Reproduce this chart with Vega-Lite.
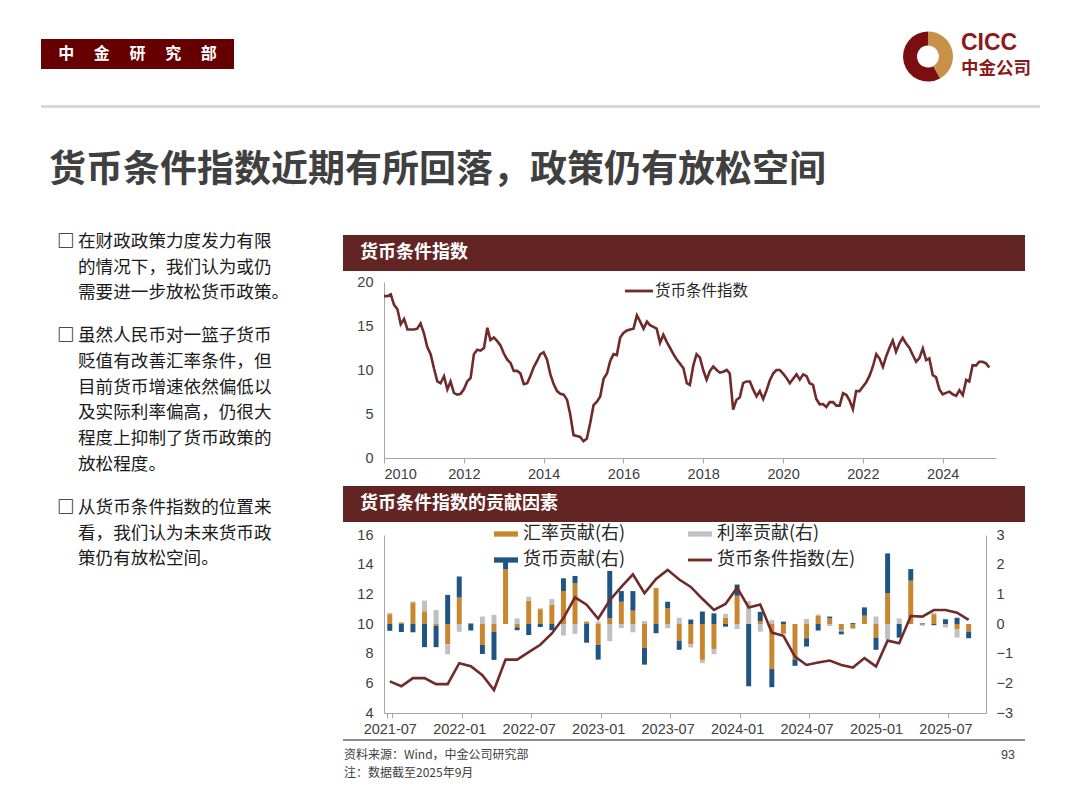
{
  "$schema": "https://vega.github.io/schema/vega-lite/v6.json",
  "background": "#ffffff",
  "padding": {"left": 41, "top": 30, "right": 0, "bottom": 0},
  "config": {
    "font": "Noto Sans CJK SC",
    "view": {"stroke": null},
    "axis": {"labelFont": "Liberation Sans", "labelFontSize": 14.5, "labelColor": "#404040", "domainColor": "#a6a6a6", "tickColor": "#a6a6a6", "grid": false, "title": null}
  },
  "datasets": {
    "seriesRank": [
      {"series": "汇率贡献(右)", "rank": 1},
      {"series": "利率贡献(右)", "rank": 2},
      {"series": "货币贡献(右)", "rank": 3}
    ]
  },
  "resolve": {"scale": {"color": "independent"}},
  "spacing": 0,
  "vconcat": [
    {
      "spacing": 669,
      "hconcat": [
        {
          "spacing": 0,
          "vconcat": [
            {"width": 193, "height": 9, "data": {"values": [{}]}, "mark": {"type": "text", "text": "", "fontSize": 0}},
            {
              "width": 193, "height": 30,
              "view": {"fill": "#660000"},
              "data": {"values": [{"label": "中　 金　 研　 究　 部"}]},
              "mark": {"type": "text", "color": "#ffffff", "fontSize": 16, "fontWeight": "bold", "baseline": "middle", "align": "center"},
              "encoding": {"text": {"field": "label"}}
            }
          ]
        },
        {
          "spacing": 8,
          "hconcat": [
            {
              "width": 50, "height": 53,
              "data": {"values": [{"part": "金", "share": 42}, {"part": "红", "share": 58}]},
              "mark": {"type": "arc", "outerRadius": 25, "innerRadius": 11},
              "encoding": {
                "theta": {"field": "share", "type": "quantitative"},
                "color": {"field": "part", "type": "nominal", "scale": {"domain": ["金", "红"], "range": ["#c8914a", "#7b0f10"]}, "legend": null},
                "order": {"field": "share", "type": "quantitative"}
              }
            },
            {
              "width": 80, "height": 52,
              "layer": [
                {
                  "data": {"values": [{"t": "CICC"}]},
                  "mark": {"type": "text", "align": "left", "baseline": "middle", "font": "Liberation Sans", "fontSize": 23, "fontWeight": "bold", "color": "#8b1a1a"},
                  "encoding": {
                    "text": {"field": "t"},
                    "x": {"datum": 0, "type": "quantitative", "scale": {"domain": [0, 1]}, "axis": null},
                    "y": {"field": "t", "type": "ordinal", "scale": {"domain": ["CICC", "中金公司"], "padding": 0.5}, "axis": null}
                  }
                },
                {
                  "data": {"values": [{"t": "中金公司"}]},
                  "mark": {"type": "text", "align": "left", "baseline": "middle", "fontSize": 17.5, "fontWeight": "bold", "color": "#8b1a1a"},
                  "encoding": {
                    "text": {"field": "t"},
                    "x": {"datum": 0, "type": "quantitative", "scale": {"domain": [0, 1]}, "axis": null},
                    "y": {"field": "t", "type": "ordinal", "scale": {"domain": ["CICC", "中金公司"], "padding": 0.5}, "axis": null}
                  }
                }
              ]
            }
          ]
        }
      ]
    },
    {"width": 999, "height": 22, "data": {"values": [{}]}, "mark": {"type": "text", "text": "", "fontSize": 0}},
    {"width": 999, "height": 3, "view": {"fill": "#d9d9d9"}, "data": {"values": [{}]}, "mark": {"type": "text", "text": "", "fontSize": 0}},
    {"width": 999, "height": 44, "data": {"values": [{}]}, "mark": {"type": "text", "text": "", "fontSize": 0}},
    {
      "title": {"text": "货币条件指数近期有所回落，政策仍有放松空间", "anchor": "start", "fontSize": 37, "fontWeight": "bold", "color": "#404040", "offset": 39, "dx": 8},
      "spacing": 12,
      "hconcat": [
        {
          "spacing": 17.5,
          "vconcat": [
            {
              "width": 290, "height": 77,
              "layer": [
                {
                  "data": {"values": [{"line": 1, "text": "□"}]},
                  "mark": {"type": "text", "align": "left", "baseline": "middle", "fontSize": 17.6, "fontWeight": "bold", "color": "#1a1a1a", "dx": 16},
                  "encoding": {
                    "text": {"field": "text"},
                    "x": {"datum": 0, "type": "quantitative", "scale": {"domain": [0, 1]}, "axis": null},
                    "y": {"field": "line", "type": "ordinal", "scale": {"domain": [1, 2, 3], "padding": 0.5}, "axis": null}
                  }
                },
                {
                  "data": {"values": [
                    {"line": 1, "text": "在财政政策力度发力有限"},
                    {"line": 2, "text": "的情况下，我们认为或仍"},
                    {"line": 3, "text": "需要进一步放松货币政策。"}
                  ]},
                  "mark": {"type": "text", "align": "left", "baseline": "middle", "fontSize": 17.6, "color": "#1a1a1a", "dx": 37},
                  "encoding": {
                    "text": {"field": "text"},
                    "x": {"datum": 0, "type": "quantitative", "scale": {"domain": [0, 1]}, "axis": null},
                    "y": {"field": "line", "type": "ordinal", "scale": {"domain": [1, 2, 3], "padding": 0.5}, "axis": null}
                  }
                }
              ]
            },
            {
              "width": 290, "height": 154,
              "layer": [
                {
                  "data": {"values": [{"line": 1, "text": "□"}]},
                  "mark": {"type": "text", "align": "left", "baseline": "middle", "fontSize": 17.6, "fontWeight": "bold", "color": "#1a1a1a", "dx": 16},
                  "encoding": {
                    "text": {"field": "text"},
                    "x": {"datum": 0, "type": "quantitative", "scale": {"domain": [0, 1]}, "axis": null},
                    "y": {"field": "line", "type": "ordinal", "scale": {"domain": [1, 2, 3, 4, 5, 6], "padding": 0.5}, "axis": null}
                  }
                },
                {
                  "data": {"values": [
                    {"line": 1, "text": "虽然人民币对一篮子货币"},
                    {"line": 2, "text": "贬值有改善汇率条件，但"},
                    {"line": 3, "text": "目前货币增速依然偏低以"},
                    {"line": 4, "text": "及实际利率偏高，仍很大"},
                    {"line": 5, "text": "程度上抑制了货币政策的"},
                    {"line": 6, "text": "放松程度。"}
                  ]},
                  "mark": {"type": "text", "align": "left", "baseline": "middle", "fontSize": 17.6, "color": "#1a1a1a", "dx": 37},
                  "encoding": {
                    "text": {"field": "text"},
                    "x": {"datum": 0, "type": "quantitative", "scale": {"domain": [0, 1]}, "axis": null},
                    "y": {"field": "line", "type": "ordinal", "scale": {"domain": [1, 2, 3, 4, 5, 6], "padding": 0.5}, "axis": null}
                  }
                }
              ]
            },
            {
              "width": 290, "height": 77,
              "layer": [
                {
                  "data": {"values": [{"line": 1, "text": "□"}]},
                  "mark": {"type": "text", "align": "left", "baseline": "middle", "fontSize": 17.6, "fontWeight": "bold", "color": "#1a1a1a", "dx": 16},
                  "encoding": {
                    "text": {"field": "text"},
                    "x": {"datum": 0, "type": "quantitative", "scale": {"domain": [0, 1]}, "axis": null},
                    "y": {"field": "line", "type": "ordinal", "scale": {"domain": [1, 2, 3], "padding": 0.5}, "axis": null}
                  }
                },
                {
                  "data": {"values": [
                    {"line": 1, "text": "从货币条件指数的位置来"},
                    {"line": 2, "text": "看，我们认为未来货币政"},
                    {"line": 3, "text": "策仍有放松空间。"}
                  ]},
                  "mark": {"type": "text", "align": "left", "baseline": "middle", "fontSize": 17.6, "color": "#1a1a1a", "dx": 37},
                  "encoding": {
                    "text": {"field": "text"},
                    "x": {"datum": 0, "type": "quantitative", "scale": {"domain": [0, 1]}, "axis": null},
                    "y": {"field": "line", "type": "ordinal", "scale": {"domain": [1, 2, 3], "padding": 0.5}, "axis": null}
                  }
                }
              ]
            }
          ]
        },
        {
          "spacing": 0,
          "resolve": {"scale": {"color": "independent"}},
          "vconcat": [
            {"width": 1, "height": 6, "data": {"values": [{}]}, "mark": {"type": "text", "text": "", "fontSize": 0}},
            {
              "width": 682, "height": 36,
              "view": {"fill": "#632523"},
              "data": {"values": [{"t": "货币条件指数"}]},
              "mark": {"type": "text", "align": "left", "baseline": "middle", "dx": 17, "fontSize": 18, "fontWeight": "bold", "color": "#ffffff"},
              "encoding": {
                "text": {"field": "t"},
                "x": {"datum": 0, "type": "quantitative", "scale": {"domain": [0, 1]}, "axis": null}
              }
            },
            {"width": 1, "height": 3, "data": {"values": [{}]}, "mark": {"type": "text", "text": "", "fontSize": 0}},
            {
              "spacing": 0,
              "resolve": {"scale": {"color": "independent"}},
              "hconcat": [
                {"width": 1, "height": 1, "data": {"values": [{}]}, "mark": {"type": "text", "text": "", "fontSize": 0}},
                {
                  "width": 612, "height": 176,
                  "data": {"values": [
                    {"date":"2010/07/01","mci":18.4},{"date":"2010/08/01","mci":18.4},{"date":"2010/09/01","mci":18.6},{"date":"2010/10/01","mci":17.4},{"date":"2010/11/01","mci":16.9},{"date":"2010/12/01","mci":15.2},
                    {"date":"2011/01/01","mci":15.8},{"date":"2011/02/01","mci":14.6},{"date":"2011/03/01","mci":14.6},{"date":"2011/04/01","mci":14.6},{"date":"2011/05/01","mci":14.7},{"date":"2011/06/01","mci":15.3},{"date":"2011/07/01","mci":14.2},{"date":"2011/08/01","mci":12.6},{"date":"2011/09/01","mci":11.8},{"date":"2011/10/01","mci":10.2},{"date":"2011/11/01","mci":8.7},{"date":"2011/12/01","mci":8.5},
                    {"date":"2012/01/01","mci":9.3},{"date":"2012/02/01","mci":7.8},{"date":"2012/03/01","mci":8.7},{"date":"2012/04/01","mci":7.4},{"date":"2012/05/01","mci":7.2},{"date":"2012/06/01","mci":7.3},{"date":"2012/07/01","mci":7.8},{"date":"2012/08/01","mci":8.7},{"date":"2012/09/01","mci":9.1},{"date":"2012/10/01","mci":11.8},{"date":"2012/11/01","mci":12.3},{"date":"2012/12/01","mci":12.2},
                    {"date":"2013/01/01","mci":12.5},{"date":"2013/02/01","mci":14.8},{"date":"2013/03/01","mci":13.4},{"date":"2013/04/01","mci":13.7},{"date":"2013/05/01","mci":13.3},{"date":"2013/06/01","mci":12.8},{"date":"2013/07/01","mci":11.9},{"date":"2013/08/01","mci":11.2},{"date":"2013/09/01","mci":10.8},{"date":"2013/10/01","mci":9.9},{"date":"2013/11/01","mci":9.9},{"date":"2013/12/01","mci":9.6},
                    {"date":"2014/01/01","mci":8.4},{"date":"2014/02/01","mci":8.5},{"date":"2014/03/01","mci":9.3},{"date":"2014/04/01","mci":10.3},{"date":"2014/05/01","mci":11.0},{"date":"2014/06/01","mci":11.8},{"date":"2014/07/01","mci":12.0},{"date":"2014/08/01","mci":11.2},{"date":"2014/09/01","mci":9.5},{"date":"2014/10/01","mci":8.4},{"date":"2014/11/01","mci":7.6},{"date":"2014/12/01","mci":7.3},
                    {"date":"2015/01/01","mci":7.2},{"date":"2015/02/01","mci":6.6},{"date":"2015/03/01","mci":5.0},{"date":"2015/04/01","mci":2.6},{"date":"2015/05/01","mci":2.5},{"date":"2015/06/01","mci":2.4},{"date":"2015/07/01","mci":1.9},{"date":"2015/08/01","mci":2.2},{"date":"2015/09/01","mci":4.0},{"date":"2015/10/01","mci":6.0},{"date":"2015/11/01","mci":6.4},{"date":"2015/12/01","mci":7.0},
                    {"date":"2016/01/01","mci":9.0},{"date":"2016/02/01","mci":9.6},{"date":"2016/03/01","mci":11.0},{"date":"2016/04/01","mci":11.8},{"date":"2016/05/01","mci":11.7},{"date":"2016/06/01","mci":13.7},{"date":"2016/07/01","mci":14.2},{"date":"2016/08/01","mci":14.5},{"date":"2016/09/01","mci":14.6},{"date":"2016/10/01","mci":14.7},{"date":"2016/11/01","mci":16.2},{"date":"2016/12/01","mci":15.5},
                    {"date":"2017/01/01","mci":14.7},{"date":"2017/02/01","mci":15.5},{"date":"2017/03/01","mci":15.1},{"date":"2017/04/01","mci":14.9},{"date":"2017/05/01","mci":14.7},{"date":"2017/06/01","mci":13.1},{"date":"2017/07/01","mci":14.0},{"date":"2017/08/01","mci":13.2},{"date":"2017/09/01","mci":12.5},{"date":"2017/10/01","mci":11.8},{"date":"2017/11/01","mci":11.2},{"date":"2017/12/01","mci":10.7},
                    {"date":"2018/01/01","mci":10.2},{"date":"2018/02/01","mci":8.5},{"date":"2018/03/01","mci":8.3},{"date":"2018/04/01","mci":10.5},{"date":"2018/05/01","mci":11.8},{"date":"2018/06/01","mci":11.4},{"date":"2018/07/01","mci":10.0},{"date":"2018/08/01","mci":8.9},{"date":"2018/09/01","mci":9.9},{"date":"2018/10/01","mci":10.4},{"date":"2018/11/01","mci":10.0},{"date":"2018/12/01","mci":9.7},
                    {"date":"2019/01/01","mci":9.8},{"date":"2019/02/01","mci":10.0},{"date":"2019/03/01","mci":9.6},{"date":"2019/04/01","mci":5.5},{"date":"2019/05/01","mci":6.6},{"date":"2019/06/01","mci":6.9},{"date":"2019/07/01","mci":8.5},{"date":"2019/08/01","mci":8.7},{"date":"2019/09/01","mci":8.7},{"date":"2019/10/01","mci":7.8},{"date":"2019/11/01","mci":7.0},{"date":"2019/12/01","mci":7.6},
                    {"date":"2020/01/01","mci":6.7},{"date":"2020/02/01","mci":7.7},{"date":"2020/03/01","mci":8.8},{"date":"2020/04/01","mci":9.6},{"date":"2020/05/01","mci":10.0},{"date":"2020/06/01","mci":10.0},{"date":"2020/07/01","mci":9.6},{"date":"2020/08/01","mci":9.1},{"date":"2020/09/01","mci":8.5},{"date":"2020/10/01","mci":9.0},{"date":"2020/11/01","mci":9.5},{"date":"2020/12/01","mci":8.9},
                    {"date":"2021/01/01","mci":9.5},{"date":"2021/02/01","mci":9.3},{"date":"2021/03/01","mci":8.5},{"date":"2021/04/01","mci":8.3},{"date":"2021/05/01","mci":6.7},{"date":"2021/06/01","mci":6.1},{"date":"2021/07/01","mci":6.13},{"date":"2021/08/01","mci":5.8},{"date":"2021/09/01","mci":6.35},{"date":"2021/10/01","mci":6.35},{"date":"2021/11/01","mci":5.95},{"date":"2021/12/01","mci":5.95},
                    {"date":"2022/01/01","mci":7.36},{"date":"2022/02/01","mci":7.15},{"date":"2022/03/01","mci":6.55},{"date":"2022/04/01","mci":5.55},{"date":"2022/05/01","mci":7.6},{"date":"2022/06/01","mci":7.6},{"date":"2022/07/01","mci":8.1},{"date":"2022/08/01","mci":8.6},{"date":"2022/09/01","mci":9.36},{"date":"2022/10/01","mci":10.4},{"date":"2022/11/01","mci":11.8},{"date":"2022/12/01","mci":11.3},
                    {"date":"2023/01/01","mci":10.35},{"date":"2023/02/01","mci":11.6},{"date":"2023/03/01","mci":12.5},{"date":"2023/04/01","mci":13.35},{"date":"2023/05/01","mci":12.07},{"date":"2023/06/01","mci":13.04},{"date":"2023/07/01","mci":13.65},{"date":"2023/08/01","mci":13.0},{"date":"2023/09/01","mci":12.5},{"date":"2023/10/01","mci":11.7},{"date":"2023/11/01","mci":10.95},{"date":"2023/12/01","mci":11.35},
                    {"date":"2024/01/01","mci":12.45},{"date":"2024/02/01","mci":11.12},{"date":"2024/03/01","mci":11.32},{"date":"2024/04/01","mci":9.42},{"date":"2024/05/01","mci":9.2},{"date":"2024/06/01","mci":7.8},{"date":"2024/07/01","mci":7.24},{"date":"2024/08/01","mci":7.4},{"date":"2024/09/01","mci":7.54},{"date":"2024/10/01","mci":7.24},{"date":"2024/11/01","mci":7.06},{"date":"2024/12/01","mci":7.7},
                    {"date":"2025/01/01","mci":7.14},{"date":"2025/02/01","mci":8.88},{"date":"2025/03/01","mci":8.7},{"date":"2025/04/01","mci":10.54},{"date":"2025/05/01","mci":10.5},{"date":"2025/06/01","mci":10.94},{"date":"2025/07/01","mci":10.94},{"date":"2025/08/01","mci":10.76},{"date":"2025/09/01","mci":10.28}
                  ]},
                  "mark": {"type": "line", "strokeWidth": 2.6},
                  "encoding": {
                    "x": {
                      "field": "date", "type": "temporal",
                      "scale": {"domain": [{"year": 2010, "month": 7, "date": 1}, {"year": 2025, "month": 11, "date": 1}], "nice": false},
                      "axis": {
                        "values": [
                          {"year": 2010, "month": 7, "date": 1}, {"year": 2012, "month": 7, "date": 1}, {"year": 2014, "month": 7, "date": 1}, {"year": 2016, "month": 7, "date": 1},
                          {"year": 2018, "month": 7, "date": 1}, {"year": 2020, "month": 7, "date": 1}, {"year": 2022, "month": 7, "date": 1}, {"year": 2024, "month": 7, "date": 1}
                        ],
                        "format": "%Y", "tickSize": 5, "labelPadding": 4
                      }
                    },
                    "y": {
                      "field": "mci", "type": "quantitative",
                      "scale": {"domain": [0, 20]},
                      "axis": {"values": [0, 5, 10, 15, 20], "ticks": false, "labelPadding": 11, "minExtent": 40, "maxExtent": 40}
                    },
                    "color": {
                      "datum": "货币条件指数",
                      "scale": {"range": ["#712a2a"]},
                      "legend": {
                        "orient": "none", "legendX": 241, "legendY": -5, "title": null,
                        "symbolType": "M-1,-0.1H1V0.1H-1Z", "symbolSize": 784,
                        "labelFontSize": 15.5, "labelColor": "#262626", "labelOffset": 2,
                        "encode": {"symbols": {"update": {"fill": {"value": "#712a2a"}, "stroke": {"value": "transparent"}, "strokeWidth": {"value": 0}, "opacity": {"value": 1}}}}
                      }
                    }
                  }
                }
              ]
            },
            {"width": 1, "height": 5, "data": {"values": [{}]}, "mark": {"type": "text", "text": "", "fontSize": 0}},
            {
              "width": 682, "height": 36,
              "view": {"fill": "#632523"},
              "data": {"values": [{"t": "货币条件指数的贡献因素"}]},
              "mark": {"type": "text", "align": "left", "baseline": "middle", "dx": 17, "fontSize": 18, "fontWeight": "bold", "color": "#ffffff"},
              "encoding": {
                "text": {"field": "t"},
                "x": {"datum": 0, "type": "quantitative", "scale": {"domain": [0, 1]}, "axis": null}
              }
            },
            {
              "spacing": 0,
              "resolve": {"scale": {"color": "independent"}},
              "hconcat": [
                {"width": 1, "height": 1, "data": {"values": [{}]}, "mark": {"type": "text", "text": "", "fontSize": 0}},
                {
                  "width": 602, "height": 178,
                  "data": {"values": [
                    {"month":"2021-07","汇率贡献(右)":0.33,"利率贡献(右)":0.04,"货币贡献(右)":-0.23,"mci":6.13},
                    {"month":"2021-08","汇率贡献(右)":0.05,"利率贡献(右)":0.0,"货币贡献(右)":-0.27,"mci":5.8},
                    {"month":"2021-09","汇率贡献(右)":0.73,"利率贡献(右)":0.03,"货币贡献(右)":-0.28,"mci":6.35},
                    {"month":"2021-10","汇率贡献(右)":0.43,"利率贡献(右)":0.36,"货币贡献(右)":-0.78,"mci":6.35},
                    {"month":"2021-11","汇率贡献(右)":-0.06,"利率贡献(右)":0.47,"货币贡献(右)":-0.72,"mci":5.95},
                    {"month":"2021-12","汇率贡献(右)":-0.68,"利率贡献(右)":-0.34,"货币贡献(右)":0.98,"mci":5.95},
                    {"month":"2022-01","汇率贡献(右)":0.89,"利率贡献(右)":-0.26,"货币贡献(右)":0.71,"mci":7.36},
                    {"month":"2022-02","汇率贡献(右)":0.03,"利率贡献(右)":0.0,"货币贡献(右)":-0.22,"mci":7.15},
                    {"month":"2022-03","汇率贡献(右)":-0.7,"利率贡献(右)":0.25,"货币贡献(右)":-0.31,"mci":6.55},
                    {"month":"2022-04","汇率贡献(右)":-0.26,"利率贡献(右)":0.31,"货币贡献(右)":-0.95,"mci":5.55},
                    {"month":"2022-05","汇率贡献(右)":1.85,"利率贡献(右)":0.0,"货币贡献(右)":0.3,"mci":7.6},
                    {"month":"2022-06","汇率贡献(右)":-0.11,"利率贡献(右)":0.19,"货币贡献(右)":-0.1,"mci":7.6},
                    {"month":"2022-07","汇率贡献(右)":0.79,"利率贡献(右)":0.13,"货币贡献(右)":-0.37,"mci":8.1},
                    {"month":"2022-08","汇率贡献(右)":0.5,"利率贡献(右)":0.03,"货币贡献(右)":-0.1,"mci":8.6},
                    {"month":"2022-09","汇率贡献(右)":0.66,"利率贡献(右)":0.18,"货币贡献(右)":-0.21,"mci":9.36},
                    {"month":"2022-10","汇率贡献(右)":1.11,"利率贡献(右)":-0.39,"货币贡献(右)":0.43,"mci":10.4},
                    {"month":"2022-11","汇率贡献(右)":1.37,"利率贡献(右)":-0.33,"货币贡献(右)":0.25,"mci":11.8},
                    {"month":"2022-12","汇率贡献(右)":0.08,"利率贡献(右)":0.0,"货币贡献(右)":-0.63,"mci":11.3},
                    {"month":"2023-01","汇率贡献(右)":-0.7,"利率贡献(右)":0.08,"货币贡献(右)":-0.5,"mci":10.35},
                    {"month":"2023-02","汇率贡献(右)":0.19,"利率贡献(右)":-0.58,"货币贡献(右)":1.6,"mci":11.6},
                    {"month":"2023-03","汇率贡献(右)":0.75,"利率贡献(右)":-0.14,"货币贡献(右)":0.36,"mci":12.5},
                    {"month":"2023-04","汇率贡献(右)":0.45,"利率贡献(右)":-0.28,"货币贡献(右)":0.66,"mci":13.35},
                    {"month":"2023-05","汇率贡献(右)":-0.81,"利率贡献(右)":0.1,"货币贡献(右)":-0.56,"mci":12.07},
                    {"month":"2023-06","汇率贡献(右)":1.21,"利率贡献(右)":0.0,"货币贡献(右)":-0.31,"mci":13.04},
                    {"month":"2023-07","汇率贡献(右)":0.53,"利率贡献(右)":-0.14,"货币贡献(右)":0.22,"mci":13.65},
                    {"month":"2023-08","汇率贡献(右)":-0.57,"利率贡献(右)":0.21,"货币贡献(右)":-0.3,"mci":13.0},
                    {"month":"2023-09","汇率贡献(右)":-0.68,"利率贡献(右)":-0.11,"货币贡献(右)":0.15,"mci":12.5},
                    {"month":"2023-10","汇率贡献(右)":-1.21,"利率贡献(右)":-0.11,"货币贡献(右)":0.42,"mci":11.7},
                    {"month":"2023-11","汇率贡献(右)":-0.84,"利率贡献(右)":-0.18,"货币贡献(右)":0.36,"mci":10.95},
                    {"month":"2023-12","汇率贡献(右)":0.21,"利率贡献(右)":0.13,"货币贡献(右)":-0.09,"mci":11.35},
                    {"month":"2024-01","汇率贡献(右)":0.95,"利率贡献(右)":-0.17,"货币贡献(右)":0.38,"mci":12.45},
                    {"month":"2024-02","汇率贡献(右)":0.0,"利率贡献(右)":0.77,"货币贡献(右)":-2.1,"mci":11.12},
                    {"month":"2024-03","汇率贡献(右)":0.1,"利率贡献(右)":-0.26,"货币贡献(右)":0.31,"mci":11.32},
                    {"month":"2024-04","汇率贡献(右)":-1.52,"利率贡献(右)":0.13,"货币贡献(右)":-0.61,"mci":9.42},
                    {"month":"2024-05","汇率贡献(右)":-0.33,"利率贡献(右)":0.0,"货币贡献(右)":0.08,"mci":9.2},
                    {"month":"2024-06","汇率贡献(右)":-1.19,"利率贡献(右)":0.0,"货币贡献(右)":-0.22,"mci":7.8},
                    {"month":"2024-07","汇率贡献(右)":-0.48,"利率贡献(右)":0.17,"货币贡献(右)":-0.28,"mci":7.24},
                    {"month":"2024-08","汇率贡献(右)":0.27,"利率贡献(右)":0.05,"货币贡献(右)":-0.22,"mci":7.4},
                    {"month":"2024-09","汇率贡献(右)":0.19,"利率贡献(右)":-0.07,"货币贡献(右)":0.06,"mci":7.54},
                    {"month":"2024-10","汇率贡献(右)":-0.2,"利率贡献(右)":-0.05,"货币贡献(右)":-0.1,"mci":7.24},
                    {"month":"2024-11","汇率贡献(右)":-0.14,"利率贡献(右)":-0.03,"货币贡献(右)":0.03,"mci":7.06},
                    {"month":"2024-12","汇率贡献(右)":0.28,"利率贡献(右)":0.0,"货币贡献(右)":0.28,"mci":7.7},
                    {"month":"2025-01","汇率贡献(右)":-0.46,"利率贡献(右)":0.25,"货币贡献(右)":-0.41,"mci":7.14},
                    {"month":"2025-02","汇率贡献(右)":1.03,"利率贡献(右)":-0.52,"货币贡献(右)":1.35,"mci":8.88},
                    {"month":"2025-03","汇率贡献(右)":0.0,"利率贡献(右)":0.19,"货币贡献(右)":-0.46,"mci":8.7},
                    {"month":"2025-04","汇率贡献(右)":1.46,"利率贡献(右)":0.0,"货币贡献(右)":0.39,"mci":10.54},
                    {"month":"2025-05","汇率贡献(右)":-0.03,"利率贡献(右)":-0.03,"货币贡献(右)":0.02,"mci":10.5},
                    {"month":"2025-06","汇率贡献(右)":0.33,"利率贡献(右)":0.05,"货币贡献(右)":-0.04,"mci":10.94},
                    {"month":"2025-07","汇率贡献(右)":-0.02,"利率贡献(右)":-0.1,"货币贡献(右)":0.16,"mci":10.94},
                    {"month":"2025-08","汇率贡献(右)":-0.18,"利率贡献(右)":-0.28,"货币贡献(右)":0.21,"mci":10.76},
                    {"month":"2025-09","汇率贡献(右)":-0.26,"利率贡献(右)":0.0,"货币贡献(右)":-0.22,"mci":10.28}
                  ]},
                  "resolve": {"scale": {"y": "independent"}},
                  "encoding": {
                    "x": {
                      "field": "month", "type": "ordinal",
                      "scale": {
                        "domain": ["2021-07","2021-08","2021-09","2021-10","2021-11","2021-12","2022-01","2022-02","2022-03","2022-04","2022-05","2022-06","2022-07","2022-08","2022-09","2022-10","2022-11","2022-12","2023-01","2023-02","2023-03","2023-04","2023-05","2023-06","2023-07","2023-08","2023-09","2023-10","2023-11","2023-12","2024-01","2024-02","2024-03","2024-04","2024-05","2024-06","2024-07","2024-08","2024-09","2024-10","2024-11","2024-12","2025-01","2025-02","2025-03","2025-04","2025-05","2025-06","2025-07","2025-08","2025-09","2025-10"],
                        "paddingInner": 0.57, "paddingOuter": 0.285
                      },
                      "axis": {
                        "values": ["2021-07","2022-01","2022-07","2023-01","2023-07","2024-01","2024-07","2025-01","2025-07"],
                        "labelAngle": 0, "tickBand": "extent", "tickSize": 5, "labelPadding": 4
                      }
                    }
                  },
                  "layer": [
                    {
                      "transform": [
                        {"fold": ["汇率贡献(右)", "利率贡献(右)", "货币贡献(右)"], "as": ["series", "value"]},
                        {"lookup": "series", "from": {"data": {"name": "seriesRank"}, "key": "series", "fields": ["rank"]}}
                      ],
                      "mark": {"type": "bar"},
                      "encoding": {
                        "y": {
                          "field": "value", "type": "quantitative", "stack": "zero",
                          "scale": {"domain": [-3, 3]},
                          "axis": {"orient": "right", "values": [-3, -2, -1, 0, 1, 2, 3], "ticks": false, "labelPadding": 10}
                        },
                        "color": {
                          "field": "series", "type": "nominal",
                          "scale": {"domain": ["汇率贡献(右)", "货币贡献(右)", "利率贡献(右)", "货币条件指数(左)"], "range": ["#c8862e", "#1f5582", "#c0c0c0", "#712a2a"]},
                          "legend": {
                            "orient": "none", "legendX": 110, "legendY": -13, "columns": 2, "title": null,
                            "labelFontSize": 18, "labelColor": "#262626", "labelOffset": 5,
                            "symbolSize": 576, "columnPadding": 62, "rowPadding": 5,
                            "encode": {
                              "symbols": {
                                "update": {
                                  "shape": {"signal": "datum.label === '货币条件指数(左)' ? 'M-1,-0.12H1V0.12H-1Z' : 'M-1,-0.22H1V0.22H-1Z'"},
                                  "fill": {"signal": "{'汇率贡献(右)': '#c8862e', '利率贡献(右)': '#c0c0c0', '货币贡献(右)': '#1f5582', '货币条件指数(左)': '#712a2a'}[datum.label]"},
                                  "stroke": {"value": "transparent"},
                                  "strokeWidth": {"value": 0},
                                  "opacity": {"value": 1}
                                }
                              }
                            }
                          }
                        },
                        "order": {"field": "rank", "type": "quantitative"}
                      }
                    },
                    {
                      "mark": {"type": "line", "strokeWidth": 2.6},
                      "encoding": {
                        "y": {
                          "field": "mci", "type": "quantitative",
                          "scale": {"domain": [4, 16]},
                          "axis": {"orient": "left", "values": [4, 6, 8, 10, 12, 14, 16], "ticks": false, "labelPadding": 11, "minExtent": 40, "maxExtent": 40}
                        },
                        "color": {"datum": "货币条件指数(左)"}
                      }
                    }
                  ]
                }
              ]
            },
            {"width": 1, "height": 3, "data": {"values": [{}]}, "mark": {"type": "text", "text": "", "fontSize": 0}},
            {"width": 682, "height": 2, "view": {"fill": "#8c8c8c"}, "data": {"values": [{}]}, "mark": {"type": "text", "text": "", "fontSize": 0}},
            {"width": 1, "height": 5, "data": {"values": [{}]}, "mark": {"type": "text", "text": "", "fontSize": 0}},
            {
              "width": 682, "height": 36,
              "layer": [
                {
                  "data": {"values": [{"line": 1, "text": "资料来源：Wind，中金公司研究部"}, {"line": 2, "text": "注：数据截至2025年9月"}]},
                  "mark": {"type": "text", "align": "left", "baseline": "middle", "fontSize": 12, "color": "#404040", "dx": 1},
                  "encoding": {
                    "text": {"field": "text"},
                    "x": {"datum": 0, "type": "quantitative", "scale": {"domain": [0, 1]}, "axis": null},
                    "y": {"field": "line", "type": "ordinal", "scale": {"domain": [1, 2], "padding": 0.5}, "axis": null}
                  }
                },
                {
                  "data": {"values": [{"line": 1, "text": "93"}]},
                  "mark": {"type": "text", "align": "right", "baseline": "middle", "fontSize": 12.5, "font": "Liberation Sans", "color": "#404040", "dx": -10},
                  "encoding": {
                    "text": {"field": "text"},
                    "x": {"datum": 1, "type": "quantitative", "scale": {"domain": [0, 1]}, "axis": null},
                    "y": {"field": "line", "type": "ordinal", "scale": {"domain": [1, 2], "padding": 0.5}, "axis": null}
                  }
                }
              ]
            }
          ]
        }
      ]
    }
  ]
}
